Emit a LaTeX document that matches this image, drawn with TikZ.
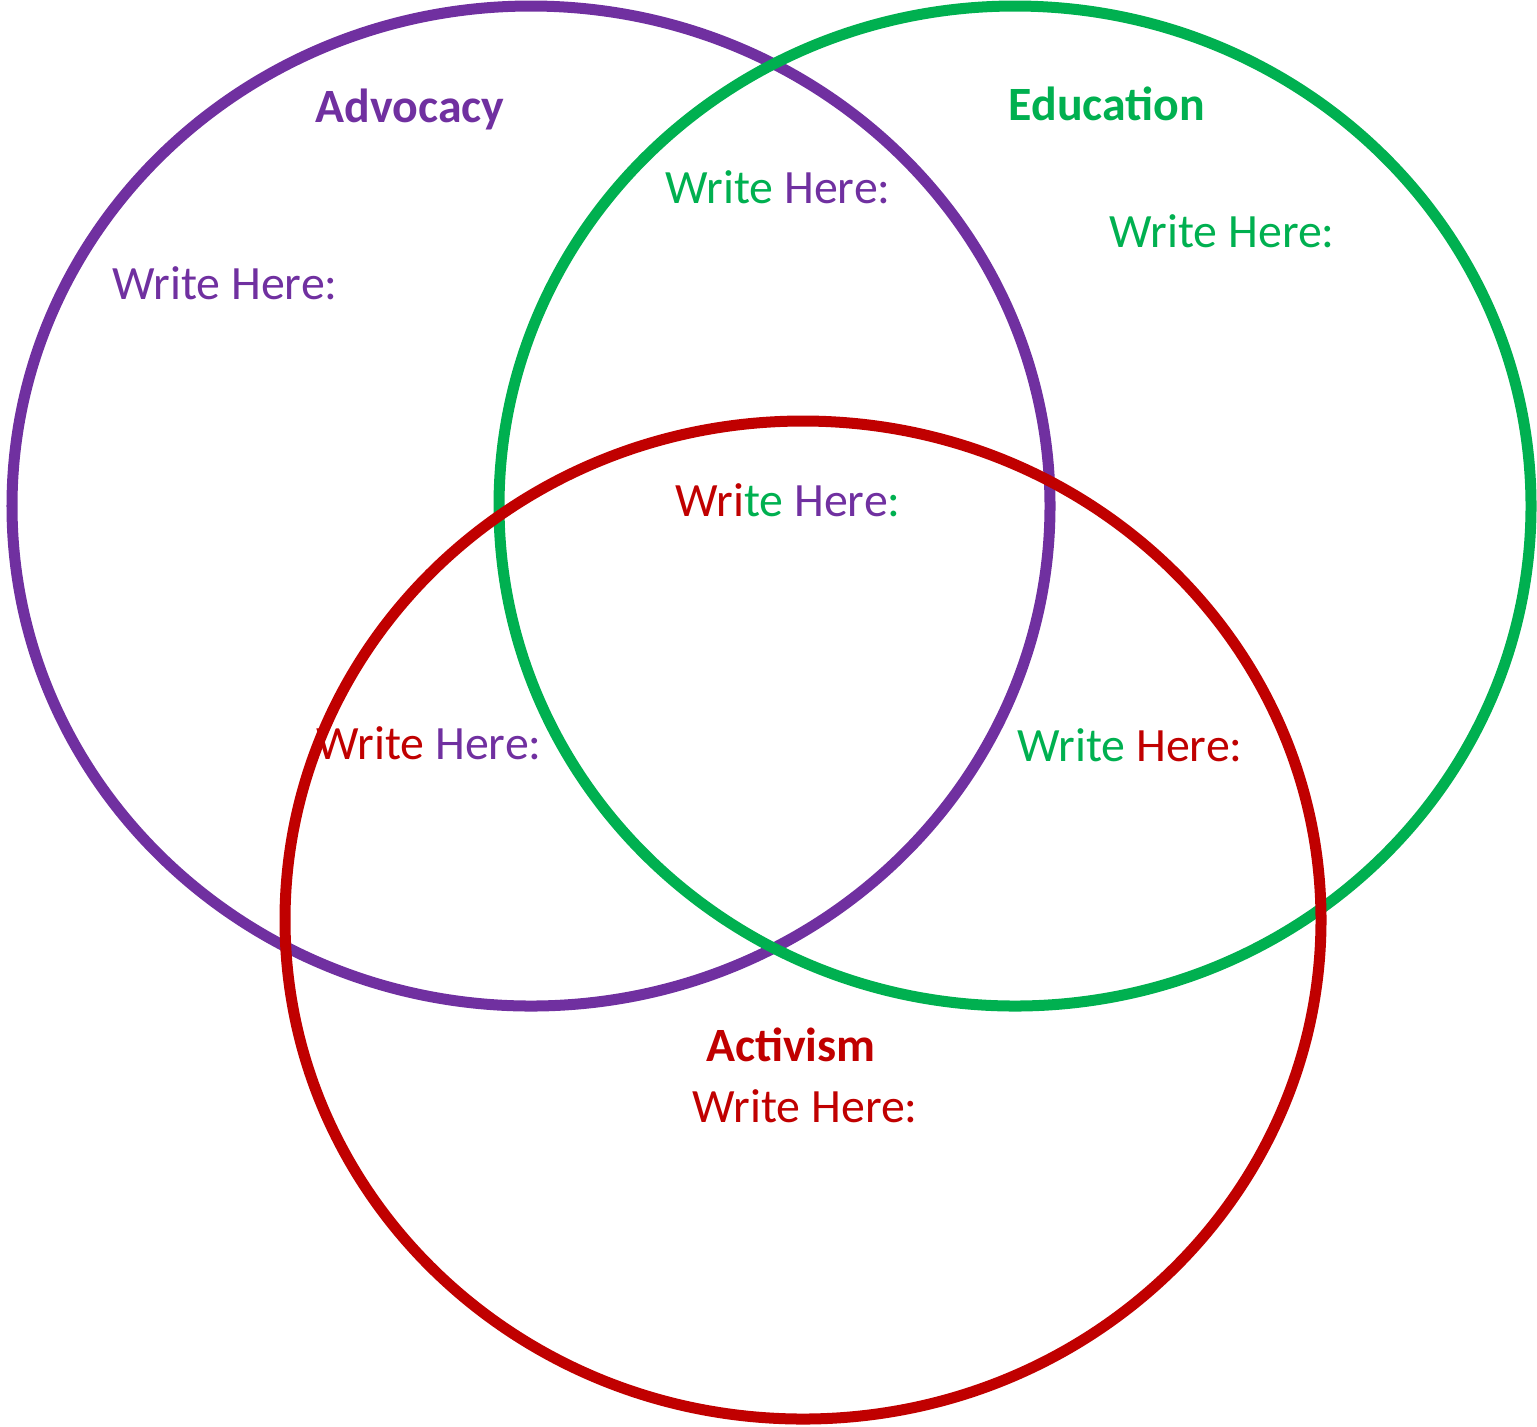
\documentclass[tikz,border=0pt]{standalone}
\usepackage{fontspec}
\setmainfont{Carlito}
\definecolor{adv}{HTML}{7030A0}
\definecolor{edu}{HTML}{00B050}
\definecolor{act}{HTML}{C00000}
\begin{document}
\begin{tikzpicture}[x=0.01cm,y=0.01cm,
  ring/.style={line width=0.11cm},
  lbl/.style={inner sep=0pt,anchor=base,font=\fontsize{13.6pt}{16pt}\selectfont},
  ttl/.style={lbl,font=\fontsize{13.6pt}{16pt}\selectfont\bfseries}]
\useasboundingbox (0,0) rectangle (1537,-1426);
\draw[ring,adv] (531,-506) ellipse [x radius=519, y radius=500];
\draw[ring,edu] (1015,-506) ellipse [x radius=516, y radius=500];
\draw[ring,act] (803,-920) ellipse [x radius=518, y radius=499];
\node[ttl,text=adv] (tadv) at (410,-122) {Advocacy};
\node[ttl,text=edu] (tedu) at (1107,-120) {Education};
\node[ttl,text=act] (tact) at (791,-1061) {Activism};
\node[lbl,text=adv] (wadv) at (225,-299) {Write Here:};
\node[lbl] (wae) at (778,-203) {\textcolor{edu}{Write} \textcolor{adv}{Here:}};
\node[lbl,text=edu] (wedu) at (1222,-247) {Write Here:};
\node[lbl] (wall) at (788,-516) {\textcolor{act}{Wri}\textcolor{edu}{te} \textcolor{adv}{Here}\textcolor{edu}{:}};
\node[lbl] (waa) at (429,-759) {\textcolor{act}{Write} \textcolor{adv}{Here:}};
\node[lbl] (wea) at (1130,-761) {\textcolor{edu}{Write} \textcolor{act}{Here:}};
\node[lbl,text=act] (wact) at (805,-1122) {Write Here:};
\end{tikzpicture}
\end{document}
